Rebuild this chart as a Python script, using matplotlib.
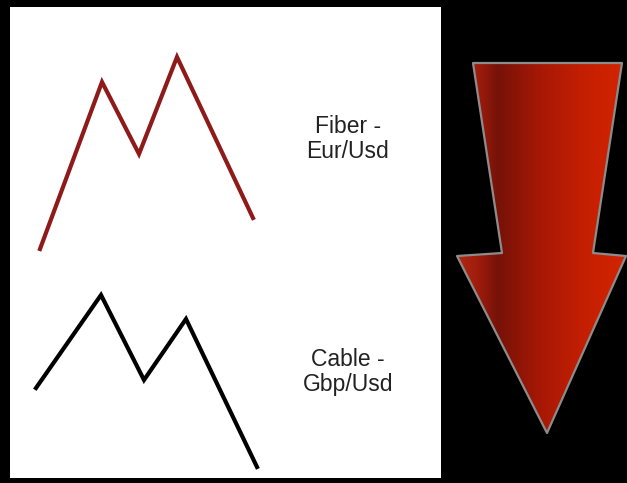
import matplotlib.pyplot as plt
import numpy as np
from matplotlib.colors import LinearSegmentedColormap
from matplotlib.patches import Polygon

# wave shapes (panel units, y up)
fiber_x = [30, 92, 129, 167, 243]
fiber_y = [229, 396, 324, 421, 260]
cable_x = [26, 91, 134, 176, 247]
cable_y = [90, 183, 98, 159, 11]

labels = ["Fiber -\nEur/Usd", "Cable -\nGbp/Usd"]
label_pos = [(338, 339), (338, 106)]

# arrow outline (figure pixels)
arrow_x = [473, 622, 593, 626, 547, 457, 502]
arrow_y = [63, 63, 253, 256, 433, 256, 253]

W, H = 627, 483
fig = plt.figure(figsize=(W / 100, H / 100), dpi=100, facecolor="black")

# arrow on full-figure axes
bg = fig.add_axes([0, 0, 1, 1])
bg.set_xlim(0, W)
bg.set_ylim(H, 0)
bg.axis("off")
bg.set_facecolor("black")

cmap = LinearSegmentedColormap.from_list(
    "arrow",
    [(0.0, "#b02a12"), (0.12, "#a01c0c"), (0.24, "#761208"),
     (0.5, "#a81805"), (0.75, "#c41f02"), (1.0, "#d42400")],
)
grad = np.linspace(0, 1, 256).reshape(1, -1)
im = bg.imshow(grad, cmap=cmap, aspect="auto",
               extent=(min(arrow_x), max(arrow_x), max(arrow_y), min(arrow_y)),
               zorder=2)
arrow = Polygon(list(zip(arrow_x, arrow_y)), closed=True, facecolor="none",
                edgecolor="#8c8c8c", linewidth=1.6, joinstyle="round", zorder=3)
bg.add_patch(arrow)
im.set_clip_path(arrow)

# white panel with the two waves
ax = fig.add_axes([10 / W, 5 / H, 431 / W, 471 / H])
ax.set_xlim(0, 431)
ax.set_ylim(0, 471)
ax.set_facecolor("white")
ax.set_xticks([])
ax.set_yticks([])
for s in ax.spines.values():
    s.set_visible(False)

ax.plot(fiber_x, fiber_y, color="#8e1a1a", linewidth=3, solid_joinstyle="miter")
ax.plot(cable_x, cable_y, color="black", linewidth=3, solid_joinstyle="miter")

for txt, (x, y) in zip(labels, label_pos):
    ax.text(x, y, txt, ha="center", va="center", fontsize=16.5,
            family="Liberation Sans", color="#222222", linespacing=1.12)

plt.savefig("out.png", dpi=100, facecolor="black")
